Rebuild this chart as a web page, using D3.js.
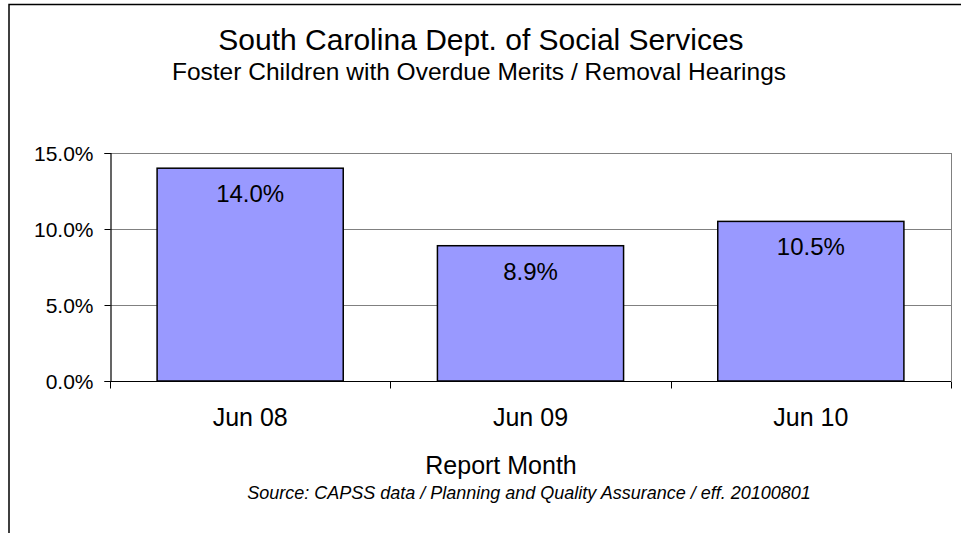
<!DOCTYPE html>
<html>
<head>
<meta charset="utf-8">
<script src="https://cdn.jsdelivr.net/npm/d3@7"></script>
<style>
  html, body { margin: 0; padding: 0; background: #fff; }
  svg { display: block; font-family: "Liberation Sans", Arial, sans-serif; }
</style>
</head>
<body>
<svg id="chart" width="961" height="533"></svg>
<script>
const categories = ["Jun 08", "Jun 09", "Jun 10"];
const values = [14.0, 8.9, 10.5];
const yTicks = [0, 5, 10, 15];

const title = "South Carolina Dept. of Social Services";
const subtitle = "Foster Children with Overdue Merits / Removal Hearings";
const xTitle = "Report Month";
const source = "Source: CAPSS data / Planning and Quality Assurance / eff. 20100801";

const svg = d3.select("#chart");
const W = 961, H = 533;
const plot = { left: 110, right: 951, top: 153, bottom: 381 };

svg.append("rect").attr("width", W).attr("height", H).attr("fill", "#fff");

// chart area border (left and top visible)
svg.append("path")
  .attr("d", `M9,${H + 2}V4.5H${W + 2}`)
  .attr("fill", "none").attr("stroke", "#000").attr("stroke-width", 1.5);

const x = d3.scaleBand().domain(categories)
  .range([plot.left, plot.right]).paddingInner(0.336).paddingOuter(0.168);
const y = d3.scaleLinear().domain([0, 15]).range([plot.bottom, plot.top]);

// gridlines
svg.append("g").selectAll("line").data(yTicks.filter(d => d > 0)).join("line")
  .attr("x1", plot.left).attr("x2", plot.right)
  .attr("y1", d => Math.round(y(d)) + 0.5).attr("y2", d => Math.round(y(d)) + 0.5)
  .attr("stroke", "#808080").attr("stroke-width", 1);

// right plot border
svg.append("line")
  .attr("x1", plot.right + 0.5).attr("x2", plot.right + 0.5)
  .attr("y1", plot.top).attr("y2", plot.bottom)
  .attr("stroke", "#808080").attr("stroke-width", 1);

// bars
svg.append("g").selectAll("rect").data(values).join("rect")
  .attr("x", (d, i) => x(categories[i]))
  .attr("y", d => y(d))
  .attr("width", x.bandwidth())
  .attr("height", d => y(0) - y(d))
  .attr("fill", "#9999FF").attr("stroke", "#000").attr("stroke-width", 1.5);

// value labels
svg.append("g").selectAll("text").data(values).join("text")
  .attr("x", (d, i) => x(categories[i]) + x.bandwidth() / 2)
  .attr("y", d => y(d) + 34)
  .attr("text-anchor", "middle").attr("font-size", 24).attr("fill", "#000")
  .text(d => d.toFixed(1) + "%");

// y axis
const yAxis = d3.axisLeft(y).tickValues(yTicks).tickSize(6).tickPadding(11)
  .tickFormat(d => d.toFixed(1) + "%");
const gy = svg.append("g").attr("transform", `translate(${plot.left + 0.5},0)`).call(yAxis);
gy.select(".domain").attr("stroke", "#000").attr("stroke-width", 1.2);
gy.selectAll(".tick line").attr("stroke", "#000");
gy.selectAll(".tick text").attr("font-size", 21).attr("font-family", "Liberation Sans, Arial, sans-serif")
  .attr("fill", "#000").attr("dy", "0.36em");

// x axis
const xAxis = d3.axisBottom(x).tickSize(0).tickPadding(45);
const gx = svg.append("g").attr("transform", `translate(0,${plot.bottom + 0.5})`).call(xAxis);
gx.select(".domain").attr("d", `M${plot.left},0H${plot.right}`).attr("stroke", "#000").attr("stroke-width", 1.2);
gx.selectAll(".tick text").attr("font-size", 25).attr("font-family", "Liberation Sans, Arial, sans-serif")
  .attr("fill", "#000").attr("dy", 0).attr("y", 44.5);
// category separator ticks
const seps = [plot.left].concat(categories.map(c => x(c) + x.bandwidth() + x.step() * x.paddingInner() / 2));
seps[seps.length - 1] = plot.right;
gx.append("g").selectAll("line").data(seps).join("line")
  .attr("x1", d => Math.round(d) + 0.5).attr("x2", d => Math.round(d) + 0.5)
  .attr("y1", 0).attr("y2", 7).attr("stroke", "#000").attr("stroke-width", 1);

// titles
svg.append("text").attr("x", 481).attr("y", 50).attr("text-anchor", "middle")
  .attr("font-size", 30).attr("fill", "#000").text(title);
svg.append("text").attr("x", 479).attr("y", 80).attr("text-anchor", "middle")
  .attr("font-size", 24.5).attr("fill", "#000").text(subtitle);
svg.append("text").attr("x", 501).attr("y", 474).attr("text-anchor", "middle")
  .attr("font-size", 25).attr("fill", "#000").text(xTitle);
svg.append("text").attr("x", 529).attr("y", 499).attr("text-anchor", "middle")
  .attr("font-size", 18).attr("font-style", "italic").attr("fill", "#000").text(source);
</script>
</body>
</html>
